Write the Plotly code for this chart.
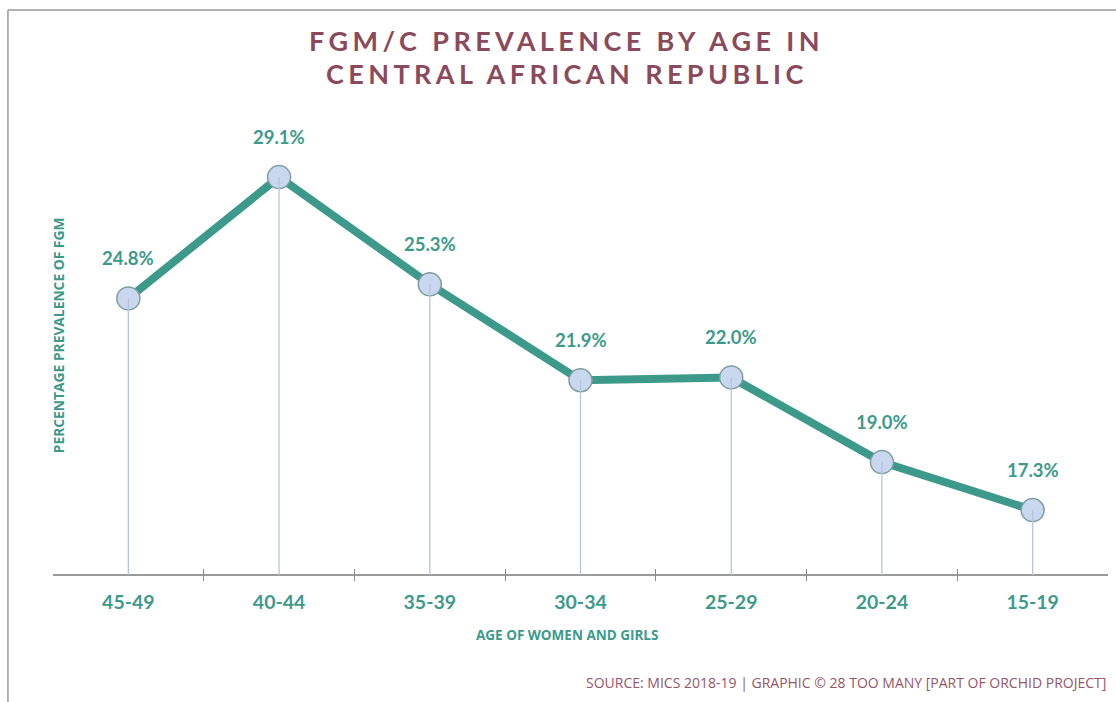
import plotly.graph_objects as go

age_groups = ["45-49", "40-44", "35-39", "30-34", "25-29", "20-24", "15-19"]
prevalence = [24.8, 29.1, 25.3, 21.9, 22.0, 19.0, 17.3]
value_labels = ["24.8%", "29.1%", "25.3%", "21.9%", "22.0%", "19.0%", "17.3%"]

TEAL = "#3d9a8b"
MAROON = "#8b4a5b"
Y_MIN = 15.0
Y_RANGE = [14.787, 31.83]

fig = go.Figure()

# main line with markers
fig.add_trace(go.Scatter(
    x=age_groups, y=prevalence, mode="lines+markers",
    line=dict(color=TEAL, width=8),
    marker=dict(size=23, color="#c9d8ef", line=dict(color="#7e9ea3", width=1.5)),
    hoverinfo="skip", showlegend=False,
))
# drop lines (drawn from data via error bars)
fig.add_trace(go.Scatter(
    x=age_groups, y=prevalence, mode="markers",
    marker=dict(size=1, color="rgba(0,0,0,0)"),
    error_y=dict(type="data", symmetric=False,
                 array=[0] * len(prevalence),
                 arrayminus=[v - Y_MIN for v in prevalence],
                 color="#b7c5d8", thickness=1.3, width=0),
    hoverinfo="skip", showlegend=False,
))

for cat, v, lab in zip(age_groups, prevalence, value_labels):
    fig.add_annotation(x=cat, y=v, text=f"<b>{lab}</b>", showarrow=False,
                       yshift=40, yanchor="middle",
                       font=dict(family="Lato", size=18.5, color=TEAL))

title_style = "letter-spacing:4.4px"
fig.add_annotation(xref="paper", yref="paper", x=0.487, y=1.1227, yanchor="middle",
                   text=f"<b><span style='{title_style}'>FGM/C PREVALENCE BY AGE IN</span></b>",
                   showarrow=False, font=dict(family="Lato", size=27, color=MAROON))
fig.add_annotation(xref="paper", yref="paper", x=0.487, y=1.0561, yanchor="middle",
                   text=f"<b><span style='{title_style}'>CENTRAL AFRICAN REPUBLIC</span></b>",
                   showarrow=False, font=dict(family="Lato", size=27, color=MAROON))

fig.add_annotation(xref="paper", yref="paper", x=0.487, y=-0.1123, yanchor="middle",
                   xanchor="center",
                   text="<b>AGE OF WOMEN AND GIRLS</b>", showarrow=False,
                   font=dict(family="Open Sans", size=13.5, color=TEAL))
fig.add_annotation(xref="paper", yref="paper", x=0.0047, y=0.511, textangle=-90,
                   xanchor="center", yanchor="middle",
                   text="<b>PERCENTAGE PREVALENCE OF FGM</b>", showarrow=False,
                   font=dict(family="Open Sans", size=13.8, color=TEAL))
fig.add_annotation(xref="paper", yref="paper", x=1.0, xanchor="right", y=-0.212,
                   yanchor="middle",
                   text="SOURCE: MICS 2018-19 | GRAPHIC © 28 TOO MANY [PART OF ORCHID PROJECT]",
                   showarrow=False, font=dict(family="Open Sans", size=14, color="#94566a"))

# frame lines
fig.add_shape(type="line", xref="paper", yref="paper", x0=-0.0427, x1=1.01, y0=1.187, y1=1.187,
              line=dict(color="#9a9a9a", width=1.5))
fig.add_shape(type="line", xref="paper", yref="paper", x0=-0.0427, x1=-0.0427, y0=-0.3, y1=1.187,
              line=dict(color="#9a9a9a", width=1.5))

fig.update_layout(
    width=1116, height=702,
    margin=dict(l=53, r=8, t=100, b=121),
    paper_bgcolor="white", plot_bgcolor="white",
    xaxis=dict(type="category", range=[-0.5, 6.5], tickson="boundaries",
               ticks="inside", ticklen=12, tickcolor="#8a8a8a", tickwidth=1.3,
               showline=False, showgrid=False, zeroline=False,
               tickfont=dict(family="Lato", size=19.5, color=TEAL),
               tickprefix="<b>", ticksuffix="</b>",
               ticklabelstandoff=7),
    yaxis=dict(range=Y_RANGE, tickvals=[Y_MIN], showticklabels=False,
               showgrid=True, gridcolor="#9a9a9a", gridwidth=1.5,
               zeroline=False, showline=False, ticks=""),
)

fig.write_html("out.html", config={"displayModeBar": False},
               post_script="document.body.style.margin='0';")
